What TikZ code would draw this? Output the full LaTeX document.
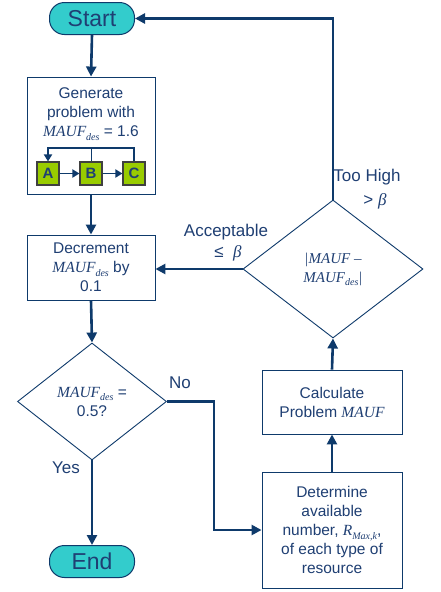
\documentclass[tikz,border=0pt]{standalone}
\usepackage{fontspec}
\setmainfont{Liberation Sans}
\newfontfamily\tms{Liberation Serif}
\usetikzlibrary{shapes.geometric,arrows.meta,positioning}
\definecolor{lnc}{HTML}{0E3A6B}
\definecolor{txc}{HTML}{1F3F73}
\definecolor{tealf}{HTML}{33CCCC}
\definecolor{grnf}{HTML}{99CC00}
\newcommand\mi[1]{{\tms\itshape #1}}
\newcommand\sbs[1]{\raisebox{-0.45ex}{\tms\itshape\fontsize{10}{10}\selectfont #1}}
\tikzset{
  term/.style={draw=lnc, line width=1pt, fill=tealf, rounded corners=15pt, minimum width=85pt, minimum height=32pt, inner sep=0pt, text=txc, font=\fontsize{23}{23}\selectfont},
  pbox/.style={draw=lnc, line width=0.9pt, fill=white, inner sep=0pt, text=txc, align=center, font=\fontsize{15.5}{19}\selectfont},
  btext/.style={text=txc, align=center, inner sep=0pt, font=\fontsize{15.5}{19}\selectfont},
  abc/.style={draw=black!75, line width=1.1pt, fill=grnf, minimum width=22pt, minimum height=23pt, inner sep=0pt, text=txc, font=\fontsize{15}{15}\selectfont\bfseries},
  dia/.style={diamond, draw=lnc, line width=0.9pt, fill=white, inner sep=0pt, text=txc, align=center, font=\fontsize{15.5}{19}\selectfont},
  conn/.style={draw=lnc, line width=2.6pt, -{Triangle[length=10pt,width=10pt]}},
  lab/.style={text=txc, inner sep=0pt, font=\fontsize{17}{20}\selectfont, align=center}
}
\begin{document}
\begin{tikzpicture}[x=1pt,y=-1pt]
\useasboundingbox[fill=white] (0,0) rectangle (441,592);
% nodes
\node[term] (start) at (92,18.5) {Start};
\node[pbox, minimum width=128pt, minimum height=117pt] (gen) at (91,135.5) {};
\node[btext] (gent) at (91,114) {Generate\\problem with\\\mi{MAUF}\sbs{des} = 1.6};
\node[abc] (A) at (48,173.5) {A};
\node[abc] (B) at (91,173.5) {B};
\node[abc] (C) at (134,173.5) {C};
\node[pbox, minimum width=128pt, minimum height=65pt] (dec) at (91,267.5) {Decrement\\\mi{MAUF}\sbs{des} by\\0.1};
\node[dia, minimum width=149pt, minimum height=117pt] (d1) at (92,401.5) {\mi{MAUF}\sbs{des} =\\0.5?};
\node[term] (end) at (92,561.5) {End};
\node[pbox, minimum width=140pt, minimum height=116pt] (det) at (332,530) {Determine\\available\\number, \mi{R}\sbs{Max,k},\\of each type of\\resource};
\node[pbox, minimum width=140pt, minimum height=64pt] (calc) at (332,402) {Calculate\\Problem \mi{MAUF}};
\node[dia, minimum width=180pt, minimum height=138pt, font=\tms\itshape\fontsize{15}{19}\selectfont] (d2) at (333,269) {|MAUF –\\MAUF\sbs{des}|};
% labels
\node[lab] (ltoo) at (367,177) {Too High};
\node[lab] (lgt) at (375,201) {> \mi{β}};
\node[lab] (lacc) at (226,232) {Acceptable};
\node[lab] (lle) at (228,253) {≤\ \ \mi{β}};
\node[lab] (lno) at (180,383) {No};
\node[lab] (lyes) at (66,468) {Yes};
% connectors
\draw[conn] (start.south) -- (gen.north);
\draw[conn] (gen.south) -- (dec.north);
\draw[conn] (dec.south) -- (d1.north);
\draw[conn] (d1.south) -- (end.north);
\draw[conn] (d1.east) -- (214,401.5) |- (det.west);
\draw[conn] (det.north) -- (calc.south);
\draw[conn] (calc.north) -- (d2.south);
\draw[conn] (d2.west) -- (d2.west -| dec.east);
\draw[conn] (d2.north) |- (start.east);
% inner loop
\draw[draw=lnc, line width=1.8pt, -{Triangle[length=7pt,width=8pt]}] (A.east) -- (B.west);
\draw[draw=lnc, line width=1.8pt, -{Triangle[length=7pt,width=8pt]}] (B.east) -- (C.west);
\draw[draw=lnc, line width=1.8pt, -{Triangle[length=7pt,width=8pt]}] (C.north) -- (134,148) -| (A.north);
\draw[draw=lnc, line width=1pt] (B.north) -- (91,148);
\end{tikzpicture}
\end{document}
